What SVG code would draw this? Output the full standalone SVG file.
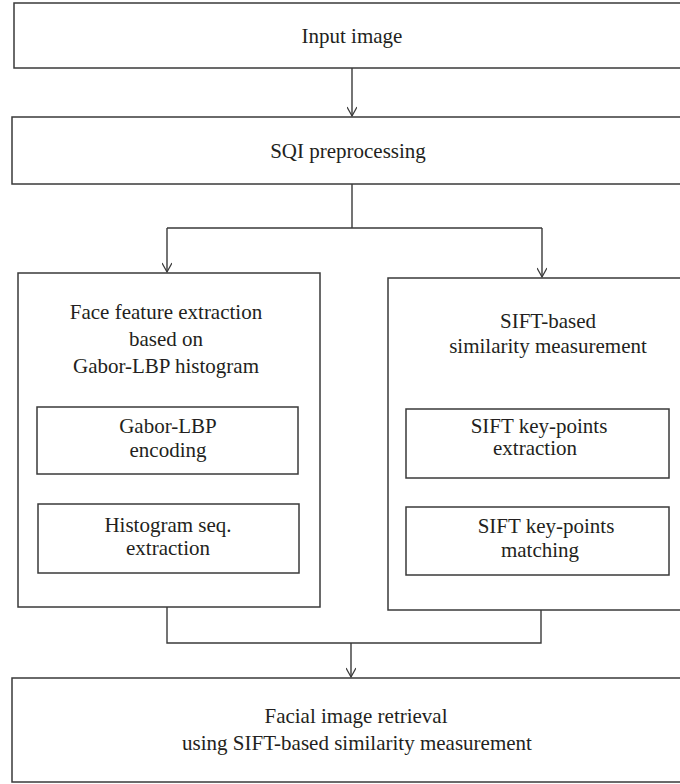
<svg xmlns="http://www.w3.org/2000/svg" width="680" height="784" viewBox="0 0 680 784">
<defs>
<style>
.box{fill:#fff;stroke:#3a3a3a;stroke-width:1.5}
.ln{fill:none;stroke:#3a3a3a;stroke-width:1.4}
text{font-family:"Liberation Serif","Times New Roman",serif;font-size:21px;fill:#231f20;text-anchor:middle}
</style>
<marker id="ah" markerWidth="12" markerHeight="10" refX="10" refY="5" orient="auto" markerUnits="userSpaceOnUse">
<path d="M1,0 L10,5 L1,10" fill="none" stroke="#3a3a3a" stroke-width="1.3"/>
</marker>
</defs>
<rect width="680" height="784" fill="#fff"/>
<g id="connectors">
<line class="ln" x1="352" y1="68" x2="352" y2="116" marker-end="url(#ah)"/>
<path class="ln" d="M352,184 V228 M167,228 H542"/>
<line class="ln" x1="167" y1="228" x2="167" y2="272" marker-end="url(#ah)"/>
<line class="ln" x1="542" y1="228" x2="542" y2="277" marker-end="url(#ah)"/>
<path class="ln" d="M167,607 V643 H541 V610"/>
<line class="ln" x1="351" y1="643" x2="351" y2="677" marker-end="url(#ah)"/>
</g>
<g id="input">
<rect class="box" x="14" y="3" width="700" height="65"/>
<text x="352" y="43">Input image</text>
</g>
<g id="sqi">
<rect class="box" x="12" y="117" width="700" height="67"/>
<text x="348" y="158">SQI preprocessing</text>
</g>
<g id="face-feature">
<rect class="box" x="18" y="273" width="302" height="334"/>
<text x="166" y="319">Face feature extraction</text>
<text x="166" y="346">based on</text>
<text x="166" y="373">Gabor-LBP histogram</text>
</g>
<g id="gabor-encoding">
<rect class="box" x="37" y="407" width="261" height="67"/>
<text x="168" y="433">Gabor-LBP</text>
<text x="168" y="457">encoding</text>
</g>
<g id="hist-extraction">
<rect class="box" x="38" y="504" width="261" height="69"/>
<text x="168" y="532">Histogram seq.</text>
<text x="168" y="555">extraction</text>
</g>
<g id="sift-similarity">
<rect class="box" x="388" y="278" width="330" height="332"/>
<text x="548" y="328">SIFT-based</text>
<text x="548" y="353">similarity measurement</text>
</g>
<g id="sift-extraction">
<rect class="box" x="406" y="409" width="263" height="69"/>
<text x="539" y="433">SIFT key-points</text>
<text x="535" y="455">extraction</text>
</g>
<g id="sift-matching">
<rect class="box" x="406" y="507" width="263" height="68"/>
<text x="546" y="533">SIFT key-points</text>
<text x="540" y="557">matching</text>
</g>
<g id="retrieval">
<rect class="box" x="12" y="678" width="700" height="104"/>
<text x="356" y="723">Facial image retrieval</text>
<text x="357" y="750">using SIFT-based similarity measurement</text>
</g>
</svg>
